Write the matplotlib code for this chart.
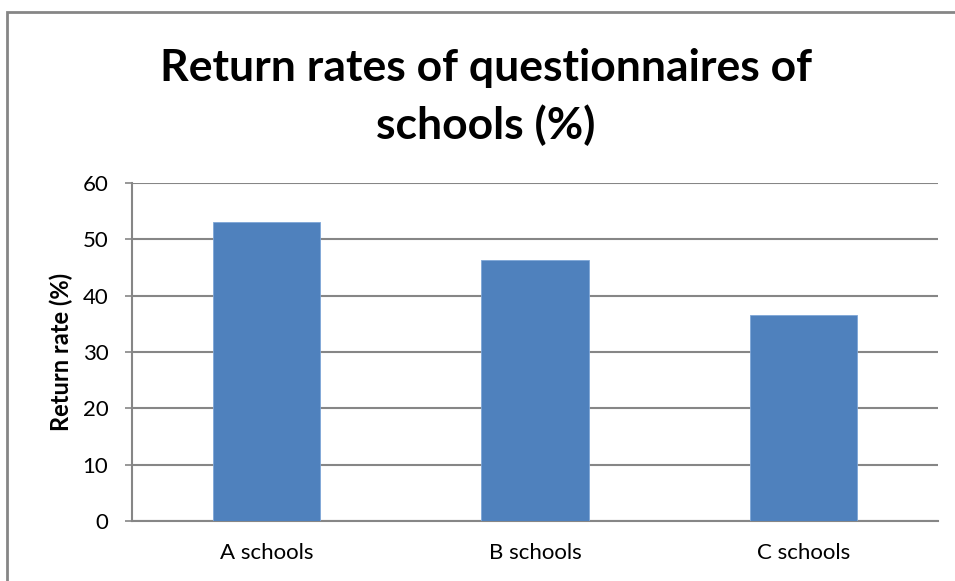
import matplotlib
matplotlib.use("Agg")
import matplotlib.pyplot as plt
from matplotlib.patches import Rectangle

categories = ["A schools", "B schools", "C schools"]
values = [53.0, 46.3, 36.6]
yticks = [0, 10, 20, 30, 40, 50, 60]

plt.rcParams['font.family'] = ['Lato', 'DejaVu Sans']

fig = plt.figure(figsize=(9.55, 5.81), dpi=100)
W, H = 955, 581
ax = fig.add_axes([132/W, 1 - 521/H, (938-132)/W, (521-183)/H])

x = range(len(categories))
ax.bar(x, values, width=0.4, color="#4F81BD", edgecolor="#7EA6D8", linewidth=0.6, zorder=3)
ax.set_xlim(-0.5, 2.5)
ax.set_ylim(0, 60)
ax.set_yticks(yticks)
ax.set_xticks(list(x))
ax.set_xticklabels(categories, fontsize=16)
ax.tick_params(axis='x', length=0, pad=16)
ax.tick_params(axis='y', length=5, width=1.2, color="#868686", labelsize=16, pad=12)
ax.grid(axis='y', color="#868686", linewidth=1.5, zorder=0)
for s in ['top', 'right']:
    ax.spines[s].set_visible(False)
for s in ['left', 'bottom']:
    ax.spines[s].set_color("#868686")
    ax.spines[s].set_linewidth(1.5)
ax.set_ylabel("Return rate (%)", fontsize=17, fontweight='bold')
ax.yaxis.set_label_coords(-0.073, 0.5)

fig.text(486/W, 1 - 97/H, "Return rates of questionnaires of\nschools (%)", ha='center', va='center',
         fontsize=32, fontweight='bold', linespacing=1.45)

fig.patches.append(Rectangle((7/W, -0.1), 1.2, 1 - 12/H + 0.1, transform=fig.transFigure,
                             fill=False, edgecolor="#868686", linewidth=2))

fig.savefig("out.png", dpi=100)
